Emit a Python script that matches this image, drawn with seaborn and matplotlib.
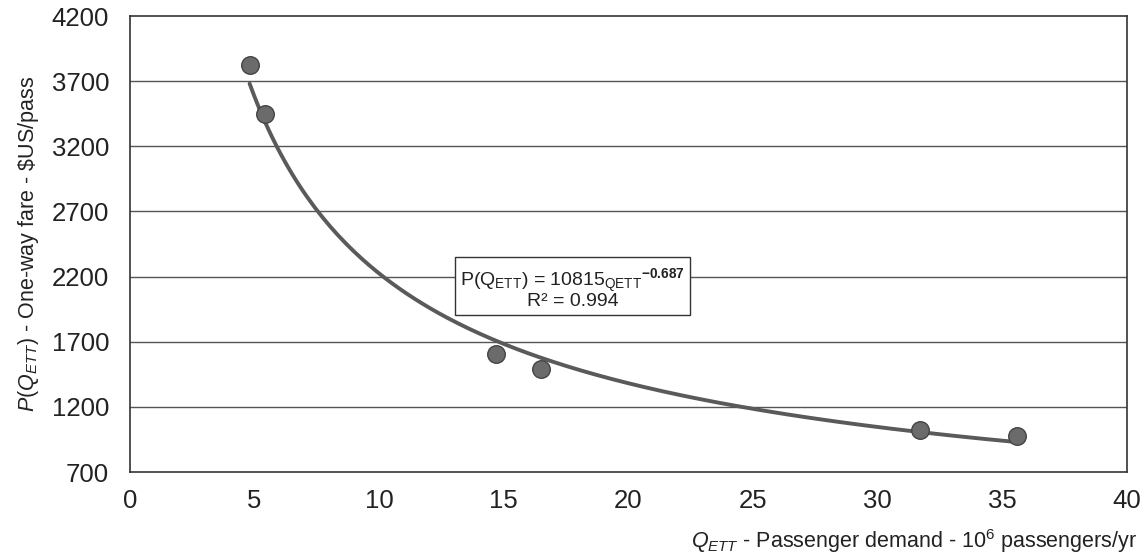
import numpy as np
import pandas as pd
import matplotlib
matplotlib.use("Agg")
import matplotlib.pyplot as plt
import seaborn as sns

# Observed demand / fare points
demand = [4.8, 5.4, 14.7, 16.5, 31.7, 35.6]          # 10^6 passengers/yr
fare = [3826, 3450, 1605, 1487, 1024, 974]            # $US/pass

# Power-law trend line shown on the chart
fit_coef = 10815
fit_exp = -0.687
fit_r2 = 0.994

y_ticks = [700, 1200, 1700, 2200, 2700, 3200, 3700, 4200]
x_ticks = [0, 5, 10, 15, 20, 25, 30, 35, 40]

df = pd.DataFrame({"demand": demand, "fare": fare})
q_fit = np.linspace(min(demand), max(demand), 200)
fit_df = pd.DataFrame({"demand": q_fit, "fare": fit_coef * q_fit ** fit_exp})

sns.set_style("white")
plt.rcParams["font.family"] = ["Liberation Sans", "DejaVu Sans"]
plt.rcParams["mathtext.fontset"] = "custom"
plt.rcParams["mathtext.rm"] = "Liberation Sans"
plt.rcParams["mathtext.it"] = "Liberation Sans:italic"
plt.rcParams["mathtext.bf"] = "Liberation Sans:bold"

fig = plt.figure(figsize=(11.47, 5.58), dpi=100)
ax = fig.add_axes([0.1133, 0.1541, 0.8693, 0.8172])

for yv in y_ticks[1:-1]:
    ax.axhline(yv, color="#555555", lw=1.0, zorder=1)

sns.lineplot(data=fit_df, x="demand", y="fare", ax=ax, color="#5a5a5a",
             lw=2.8, zorder=2)
sns.scatterplot(data=df, x="demand", y="fare", ax=ax, color="#6b6b6b",
                edgecolor="#444444", linewidth=1.0, s=160, zorder=3)

ax.set_xlim(0, 40)
ax.set_ylim(700, 4200)
ax.set_xticks(x_ticks)
ax.set_yticks(y_ticks)
ax.tick_params(axis="x", direction="in", length=6, width=1, color="#333333",
               labelsize=18.5, pad=12, labelcolor="#222222")
ax.tick_params(axis="y", length=0, labelsize=18.5, pad=15, labelcolor="#222222")
for spine in ax.spines.values():
    spine.set_visible(True)
    spine.set_color("#333333")
    spine.set_linewidth(1.2)

ax.set_xlabel(r"$Q_{ETT}$ - Passenger demand - 10$^{6}$ passengers/yr",
              fontsize=15.5, color="#222222", ha="right")
ax.xaxis.set_label_coords(1.01, -0.12)
ax.set_ylabel(r"$P(Q_{ETT})$ - One-way fare - \$US/pass",
              fontsize=15.5, color="#222222", labelpad=8)

ax.text(17.75, 2110,
        r"P(Q$_{\mathrm{ETT}}$) = 10815$_{\mathrm{QETT}}$$^{\mathbf{-0.687}}$"
        + "\n" + f"R\u00b2 = {fit_r2}",
        ha="center", va="center", fontsize=14, color="#222222",
        linespacing=0.9,
        bbox=dict(boxstyle="square,pad=0.25", fc="white", ec="#333333", lw=1.0),
        zorder=4)

fig.savefig("out.png", dpi=100)
